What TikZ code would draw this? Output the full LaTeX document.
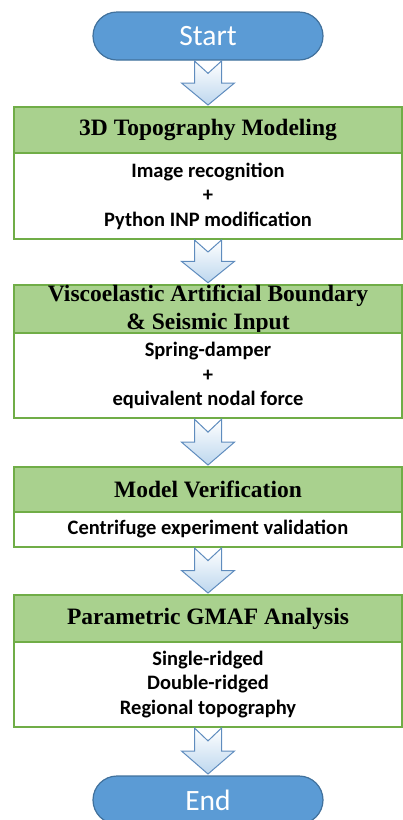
\documentclass[tikz,border=0pt]{standalone}
\usepackage{fontspec}
\setmainfont{Liberation Serif}
\newfontfamily\calibri{Carlito}
\usetikzlibrary{calc}

\definecolor{termblue}{HTML}{5B9BD5}
\definecolor{termedge}{HTML}{41719C}
\definecolor{headgreen}{HTML}{A9D18E}
\definecolor{edgegreen}{HTML}{70AD47}
\definecolor{arrowedge}{RGB}{95,140,190}
\definecolor{arrowfill}{HTML}{BDD7EE}

% hollow down arrow with notched tail, from one node to the next
\newcommand{\downblock}[2]{%
  \path[blockarrow] let \p1=($(#1.south)+(0,1)$), \p2=($(#2.north)+(0,-2)$), \n1={\y1-\y2} in
    (\x1-13.5pt,\y1) -- (\x1,\y1-0.28*\n1) -- (\x1+13.5pt,\y1) -- (\x1+13.5pt,\y1-0.5*\n1)
    -- (\x1+26.5pt,\y1-0.5*\n1) -- (\x1,\y2) -- (\x1-26.5pt,\y1-0.5*\n1)
    -- (\x1-13.5pt,\y1-0.5*\n1) -- cycle;}

\begin{document}
\begin{tikzpicture}[x=1pt,y=-1pt,
    term/.style={rectangle,rounded corners=24pt,fill=termblue,draw=termedge,line width=1.2pt,
      minimum width=230,minimum height=48,inner sep=0,outer sep=0,text=white,
      font={\calibri\fontsize{29.5}{31}\selectfont}},
    head/.style={rectangle,fill=headgreen,draw=edgegreen,line width=2pt,minimum width=388,
      inner sep=0,outer sep=0,align=center,font={\bfseries\fontsize{23.5}{28}\selectfont}},
    body/.style={rectangle,fill=white,draw=edgegreen,line width=2pt,minimum width=388,
      inner sep=0,outer sep=0,anchor=north,align=center,
      font={\calibri\bfseries\fontsize{20.5}{24.5}\selectfont}},
    blockarrow/.style={draw=arrowedge,line width=1pt,line join=miter,
      top color=white,bottom color=arrowfill}]
  \path[use as bounding box,clip] (0,0) rectangle (403,820);

  \node[term] (start) at (208,36) {Start};

  \node[head,minimum height=46] (h1) at (208,130) {3D Topography Modeling};
  \node[body,minimum height=86] (b1) at (h1.south) {Image recognition\\+\\Python INP modification};

  \node[head,minimum height=48,text depth=4pt] (h2) at (208,309) {Viscoelastic Artificial Boundary\\\& Seismic Input};
  \node[body,minimum height=85] (b2) at (h2.south) {Spring-damper\\+\\equivalent nodal force};

  \node[head,minimum height=45] (h3) at (208,489.5) {Model Verification};
  \node[body,minimum height=35] (b3) at (h3.south) {Centrifuge experiment validation};

  \node[head,minimum height=47] (h4) at (208,618.5) {Parametric GMAF Analysis};
  \node[body,minimum height=85] (b4) at (h4.south) {Single-ridged\\Double-ridged\\Regional topography};

  \node[term] (end) at (208,800) {End};

  % block arrows between the steps
  \downblock{start}{h1}
  \downblock{b1}{h2}
  \downblock{b2}{h3}
  \downblock{b3}{h4}
  \downblock{b4}{end}
\end{tikzpicture}
\end{document}
